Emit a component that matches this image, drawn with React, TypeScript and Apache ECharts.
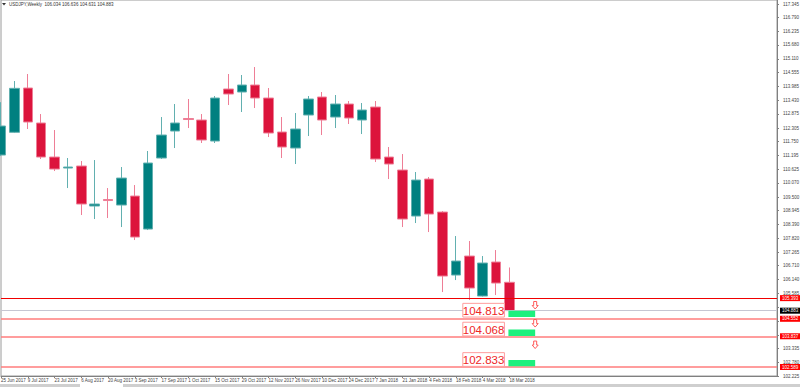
import React, { useEffect, useRef } from 'react';
import * as echarts from 'echarts';

const symbolName = 'USDJPY,Weekly';

const dates = [
  '25 Jun 2017', '2 Jul 2017', '9 Jul 2017', '16 Jul 2017', '23 Jul 2017', '30 Jul 2017',
  '6 Aug 2017', '13 Aug 2017', '20 Aug 2017', '27 Aug 2017', '3 Sep 2017', '10 Sep 2017',
  '17 Sep 2017', '24 Sep 2017', '1 Oct 2017', '8 Oct 2017', '15 Oct 2017', '22 Oct 2017',
  '29 Oct 2017', '5 Nov 2017', '12 Nov 2017', '19 Nov 2017', '26 Nov 2017', '3 Dec 2017',
  '10 Dec 2017', '17 Dec 2017', '24 Dec 2017', '31 Dec 2017', '7 Jan 2018', '14 Jan 2018',
  '21 Jan 2018', '28 Jan 2018', '4 Feb 2018', '11 Feb 2018', '18 Feb 2018', '25 Feb 2018',
  '4 Mar 2018', '11 Mar 2018', '18 Mar 2018',
];

const opens = [111.207, 112.130, 113.930, 112.508, 111.125, 110.678, 110.760, 109.134, 109.398, 109.174,
  109.540, 108.198, 111.085, 112.182, 112.690, 112.630, 111.776, 113.890, 113.768, 114.052,
  113.524, 112.142, 111.491, 112.833, 113.565, 112.751, 113.280, 112.630, 113.158, 111.125,
  110.597, 108.727, 110.231, 108.889, 106.329, 107.101, 105.475, 106.857, 106.034];
const closes = [112.386, 113.918, 112.548, 111.125, 110.637, 110.719, 109.215, 109.215, 109.357, 110.271,
  107.873, 110.882, 112.020, 112.508, 112.650, 111.817, 113.524, 113.686, 114.052, 113.524,
  112.101, 111.532, 112.264, 113.483, 112.630, 113.280, 112.711, 113.036, 111.044, 110.841,
  108.605, 110.190, 108.808, 106.288, 106.898, 105.800, 106.817, 106.003, 104.883];
const lows = [111.166, 112.101, 112.264, 111.044, 110.556, 109.865, 108.768, 108.605, 108.646, 108.280,
  107.751, 108.158, 111.044, 111.491, 112.304, 111.695, 111.695, 113.239, 112.955, 113.117,
  111.938, 111.085, 110.841, 111.979, 112.020, 112.304, 112.467, 112.060, 110.922, 110.231,
  108.280, 108.442, 108.076, 105.637, 106.125, 105.312, 105.455, 105.515, 104.631];
const highs = [113.355, 114.215, 114.500, 112.873, 112.223, 111.085, 110.963, 111.003, 109.865, 110.719,
  109.987, 111.370, 112.751, 113.280, 113.483, 112.873, 113.605, 114.500, 114.459, 114.784,
  113.930, 112.751, 112.914, 113.605, 113.768, 113.646, 113.402, 113.320, 113.402, 111.532,
  111.247, 110.516, 110.312, 108.930, 107.914, 107.711, 107.101, 107.345, 106.636];

// empty weekly slots to the right of the last bar
const emptySlots = 20;

const priceTicks = [102.225, 102.780, 103.335, 103.890, 104.445, 105.015, 105.585, 106.140, 106.710,
  107.265, 107.820, 108.390, 108.945, 109.500, 110.070, 110.625, 111.195, 111.750, 112.305,
  112.875, 113.430, 113.985, 114.555, 115.110, 115.680, 116.235, 116.790, 117.345];
const yMin = 102.225;
const yMax = 117.508;

const levelLines = [105.393, 104.552, 103.837, 102.589];

const targetLabels = ['104.813', '104.068', '102.833'];
const targetBarTop = [104.877, 104.113, 102.873];
const targetBarBottom = [104.621, 103.853, 102.617];
const arrowPrices = [105.09, 104.357, 103.483];
const targetFromIdx = 38;
const targetToIdx = 40;

const FONT = '"Liberation Sans", Arial, sans-serif';

export default function App() {
  const ref = useRef<HTMLDivElement>(null);

  useEffect(() => {
    if (!ref.current) return;
    const chart = echarts.init(ref.current, null, { renderer: 'svg' });
    const categories = [
      ...dates,
      ...Array.from({ length: emptySlots }, (_, i) => `slot${i + 1}`),
    ];
    const last = dates.length - 1;
    const showIdx = (i: number) => i % 2 === 0 && i < dates.length;
    const titleText = `${symbolName}  ${opens[last].toFixed(3)} ${highs[last].toFixed(3)} ${lows[last].toFixed(3)} ${closes[last].toFixed(3)}`;
    // price labels covered by the line tags on the axis (as in the terminal) are not drawn
    const tagged = [...levelLines, closes[last]];
    const labelTicks = priceTicks.filter((t) => tagged.every((v) => Math.abs(v - t) > 0.15));

    const option: any = {
      animation: false,
      backgroundColor: '#ffffff',
      title: {
        text: titleText,
        left: 9,
        top: 2,
        padding: 0,
        textStyle: { fontSize: 4.5, fontWeight: 'normal', color: '#333', fontFamily: FONT },
      },
      grid: {
        left: 1, right: 23, top: 0, bottom: 11,
        show: true, borderColor: '#9a9a9a', borderWidth: 1,
        containLabel: false, outerBoundsMode: 'none',
      },
      graphic: [
        { type: 'polygon', shape: { points: [[2, 3], [6, 3], [4, 5.5]] }, style: { fill: '#333' } },
        { type: 'rect', shape: { x: 0, y: 384, width: 800, height: 3 }, style: { fill: '#cfcfcf' } },
        { type: 'rect', shape: { x: 80, y: 384, width: 43, height: 3 }, style: { fill: '#ffffff' } },
      ],
      xAxis: {
        type: 'category',
        data: categories,
        boundaryGap: false,
        axisLine: { show: true, lineStyle: { color: '#808080' } },
        axisTick: { show: true, interval: (i: number) => showIdx(i), length: 2, lineStyle: { color: '#808080' } },
        axisLabel: {
          interval: (i: number) => showIdx(i),
          align: 'left', fontSize: 4.5, color: '#444', margin: 2, fontFamily: FONT,
        },
        splitLine: { show: false },
      },
      yAxis: {
        type: 'value',
        position: 'right',
        min: yMin,
        max: yMax,
        axisLine: { show: true, lineStyle: { color: '#808080' } },
        splitLine: { show: false },
        axisTick: { show: true, customValues: priceTicks, length: 2, lineStyle: { color: '#808080' } },
        axisLabel: {
          customValues: labelTicks,
          formatter: (v: number) => Number(v).toFixed(3),
          fontSize: 4.5, color: '#444', margin: 6, fontFamily: FONT,
        },
      },
      series: [
        {
          type: 'candlestick',
          data: dates.map((_, i) => [opens[i], closes[i], lows[i], highs[i]]),
          barWidth: 10,
          itemStyle: {
            color: '#008080', color0: '#dc143c',
            borderColor: '#62b0b0', borderColor0: '#ee7e96', borderWidth: 1,
          },
          markLine: {
            symbol: ['none', 'none'],
            silent: true,
            animation: false,
            label: {
              position: 'end', fontSize: 4.5, padding: [1, 2, 0, 2], distance: 3,
              fontFamily: FONT, color: '#fff',
            },
            data: [
              ...levelLines.map((v, i) => ({
                yAxis: v,
                lineStyle: { color: i === 0 ? '#f00000' : '#ff7d7d', width: i === 0 ? 1 : 1.5, type: 'solid' },
                label: { formatter: v.toFixed(3), backgroundColor: '#ff0000', color: '#ffffff' },
              })),
              {
                yAxis: closes[last],
                lineStyle: { color: '#c6c6d2', width: 1, type: 'solid' },
                label: { formatter: closes[last].toFixed(3), backgroundColor: '#000000', color: '#ffffff' },
              },
            ],
          },
        },
        {
          type: 'custom',
          data: targetLabels.map((_, i) => [targetFromIdx, targetToIdx, targetBarTop[i], targetBarBottom[i], arrowPrices[i]]),
          renderItem: (params: any, api: any) => {
            const i = params.dataIndex;
            const p0 = api.coord([api.value(0), api.value(2)]);
            const p1 = api.coord([api.value(1), api.value(3)]);
            const pa = api.coord([api.value(1), api.value(4)]);
            const boxW = 41.6;
            const boxH = 13.7;
            const boxRight = p0[0] - 5;
            const cx = pa[0] - 1;
            const ty = pa[1] - 4;
            return {
              type: 'group',
              children: [
                {
                  type: 'rect',
                  shape: { x: p0[0] - 1, y: p0[1], width: p1[0] - p0[0], height: p1[1] - p0[1] },
                  style: { fill: '#1ef07e' },
                },
                {
                  type: 'rect',
                  shape: { x: boxRight - boxW, y: p1[1] - boxH, width: boxW, height: boxH },
                  style: { fill: '#ffffff', stroke: '#ff9c9c', lineWidth: 1 },
                },
                {
                  type: 'text',
                  x: boxRight - boxW / 2,
                  y: p1[1] - boxH / 2 + 0.5,
                  style: {
                    text: targetLabels[i], fill: '#ee2626', fontSize: 11.5, fontFamily: FONT,
                    align: 'center', verticalAlign: 'middle',
                  },
                },
                {
                  type: 'polygon',
                  shape: {
                    points: [[cx - 1.5, ty], [cx + 1.5, ty], [cx + 1.5, ty + 4], [cx + 3, ty + 4],
                      [cx, ty + 7.5], [cx - 3, ty + 4], [cx - 1.5, ty + 4]],
                  },
                  style: { fill: '#ffffff', stroke: '#ff5a5a', lineWidth: 1 },
                },
              ],
            };
          },
          z: 5,
        },
      ],
    };
    chart.setOption(option);
    return () => chart.dispose();
  }, []);

  return (
    <div
      ref={ref}
      style={{ position: 'absolute', left: 0, top: 0, width: 800, height: 387 }}
    />
  );
}
